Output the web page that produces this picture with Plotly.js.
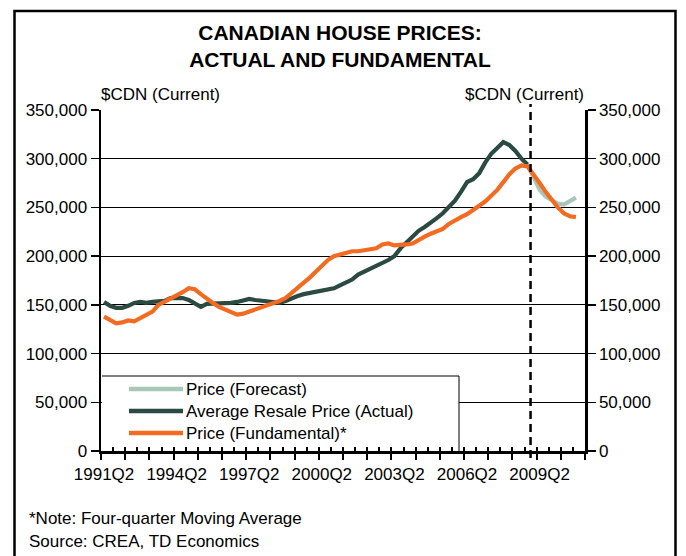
<!DOCTYPE html>
<html>
<head>
<meta charset="utf-8">
<script src="https://cdn.plot.ly/plotly-3.0.1.min.js"></script>
<style>html,body{margin:0;padding:0;background:#fff;}#chart{width:686px;height:556px;}</style>
</head>
<body>
<div id="chart"></div>
<script>
// ---------- DATA ----------
const firstQuarter = [1991, 2];   // 1991Q2
const nQuarters = 80;             // 1991Q2 .. 2011Q1
const tickLabels = ['1991Q2','1994Q2','1997Q2','2000Q2','2003Q2','2006Q2','2009Q2'];
const yTicks = [0, 50000, 100000, 150000, 200000, 250000, 300000, 350000];
const forecastStartQuarter = '2008Q4';

const actualStart = '1991Q2';
const actual = [153000,149000,147000,147000,149000,152000,153000,152000,153000,154000,
                154000,157000,157000,157000,155000,151000,148000,151000,151000,152000,
                152000,152000,153000,155000,156000,155000,154000,153000,152000,152000,
                154000,157000,159000,161000,162000,163000,164000,165000,167000,170000,
                173000,176000,181000,184000,187000,189000,193000,196000,200000,208000,
                214000,220000,226000,230000,234000,239000,244000,250000,257000,266000,
                276000,279000,285000,296000,305000,311000,317000,314000,308000,300000,
                294000];

const fundamentalStart = '1991Q2';
const fundamental = [138000,135000,131000,132000,134000,133000,136000,139000,143000,150000,
                     153000,156000,159000,163000,167000,166000,161000,156000,152000,148000,
                     145000,142000,140000,141000,143000,145000,148000,150000,152000,154000,
                     157000,162000,167000,172000,178000,184000,190000,196000,200000,202000,
                     204000,205000,205000,206000,207000,208000,212000,213000,211000,211000,
                     212000,213000,217000,220000,223000,226000,228000,233000,237000,240000,
                     243000,247000,251000,256000,262000,268000,276000,284000,290000,293000,
                     292000,284000,275000,266000,258000,250000,244000,241000,240000];

const forecastStart = '2008Q4';
const forecast = [294000,281000,268000,261000,257000,254000,253000,256000,260000];

const seriesNames = ['Price (Forecast)', 'Average Resale Price (Actual)', 'Price (Fundamental)*'];
const seriesColors = ['#a9c6bb', '#2b4a42', '#f36b21'];

// ---------- BUILD ----------
const quarters = [];
{ let y = firstQuarter[0], q = firstQuarter[1];
  for (let i = 0; i < nQuarters; i++) { quarters.push(y + 'Q' + q); q++; if (q > 4) { q = 1; y++; } } }
const idx = s => quarters.indexOf(s);
const xs = (start, arr) => arr.map((_, i) => idx(start) + i);

const FONT = "'Liberation Sans', Arial, sans-serif";
const ML = 101, MR = 101, MT = 110, MB = 105, W = 686, H = 556;
const PW = W - ML - MR, PH = H - MT - MB;
const px = x => (x - ML) / PW;
const py = y => (H - MB - y) / PH;

const traces = [
  {x: xs(forecastStart, forecast), y: forecast, name: seriesNames[0], mode: 'lines',
   line: {color: seriesColors[0], width: 4.2}, xaxis: 'x2', yaxis: 'y2', showlegend: false, hoverinfo: 'skip'},
  {x: xs(actualStart, actual), y: actual, name: seriesNames[1], mode: 'lines',
   line: {color: seriesColors[1], width: 4.2}, xaxis: 'x', yaxis: 'y', showlegend: false, hoverinfo: 'skip'},
  {x: xs(fundamentalStart, fundamental), y: fundamental, name: seriesNames[2], mode: 'lines',
   line: {color: seriesColors[2], width: 4.2}, xaxis: 'x2', yaxis: 'y2', showlegend: false, hoverinfo: 'skip'}
];

const xr = [-0.5, nQuarters - 0.5];
const yr = [0, 350000];
const tickFont = {family: FONT, size: 17, color: '#000'};

// legend geometry (pixels)
const legBox = {x0: 102, x1: 459, y0: 376, y1: 446.5};
const legRows = [389, 411, 433];
const legLine = [129, 183];

const shapes = [
  // outer frame
  {type: 'rect', xref: 'paper', yref: 'paper', x0: px(14.5), x1: px(675.5), y0: py(580), y1: py(11),
   line: {color: '#000', width: 2.5}, fillcolor: 'rgba(0,0,0,0)', layer: 'above'},
  // forecast divider
  {type: 'line', xref: 'x', yref: 'paper', x0: idx(forecastStartQuarter) + 0.5, x1: idx(forecastStartQuarter) + 0.5,
   y0: py(458), y1: py(104), line: {color: '#000', width: 2.5, dash: '8px,5px'}, layer: 'above'},
  // legend box (white fill, top and right borders)
  {type: 'rect', xref: 'paper', yref: 'paper', x0: px(legBox.x0), x1: px(legBox.x1), y0: py(legBox.y1), y1: py(legBox.y0),
   line: {width: 0}, fillcolor: '#fff', layer: 'above'},
  {type: 'line', xref: 'paper', yref: 'paper', x0: px(legBox.x0), x1: px(legBox.x1), y0: py(legBox.y0), y1: py(legBox.y0),
   line: {color: '#000', width: 1}, layer: 'above'},
  {type: 'line', xref: 'paper', yref: 'paper', x0: px(legBox.x1), x1: px(legBox.x1), y0: py(legBox.y0), y1: py(451),
   line: {color: '#000', width: 1}, layer: 'above'}
];
seriesNames.forEach((n, i) => {
  shapes.push({type: 'line', xref: 'paper', yref: 'paper', x0: px(legLine[0]), x1: px(legLine[1]),
    y0: py(legRows[i]), y1: py(legRows[i]), line: {color: seriesColors[i], width: 4.5}, layer: 'above'});
});

const annotations = [
  {text: '$CDN (Current)', xref: 'paper', yref: 'paper', x: px(99), y: py(94), xanchor: 'left', yanchor: 'middle',
   showarrow: false, font: tickFont},
  {text: '$CDN (Current)', xref: 'paper', yref: 'paper', x: px(586), y: py(94), xanchor: 'right', yanchor: 'middle',
   showarrow: false, font: tickFont},
  {text: '*Note: Four-quarter Moving Average', xref: 'paper', yref: 'paper', x: px(27), y: py(518), xanchor: 'left',
   yanchor: 'middle', showarrow: false, font: tickFont},
  {text: 'Source: CREA, TD Economics', xref: 'paper', yref: 'paper', x: px(27), y: py(541), xanchor: 'left',
   yanchor: 'middle', showarrow: false, font: tickFont}
];
seriesNames.forEach((n, i) => {
  annotations.push({text: n, xref: 'paper', yref: 'paper', x: px(legLine[1] + 1), y: py(legRows[i]),
    xanchor: 'left', yanchor: 'middle', showarrow: false, font: tickFont});
});

const layout = {
  width: W, height: H,
  margin: {l: ML, r: MR, t: MT, b: MB, pad: 0},
  paper_bgcolor: '#fff', plot_bgcolor: '#fff',
  showlegend: false,
  title: {text: '<b>CANADIAN HOUSE PRICES:</b><br><b>ACTUAL AND FUNDAMENTAL</b>',
          font: {family: FONT, size: 21, color: '#000'},
          x: 340 / W, xanchor: 'center', xref: 'container',
          y: 1 - 40 / H, yanchor: 'middle', yref: 'container'},
  xaxis: {range: xr, tickmode: 'array', tickvals: tickLabels.map(idx), ticktext: tickLabels,
          ticks: 'outside', ticklen: 6, tickcolor: 'rgba(0,0,0,0)', tickfont: tickFont,
          showline: true, linecolor: '#000', linewidth: 2.5, showgrid: false, zeroline: false,
          minor: {tickmode: 'linear', tick0: -0.5, dtick: 4, ticks: 'outside', ticklen: 6, tickwidth: 2,
                  tickcolor: '#000', showgrid: false},
          fixedrange: true},
  xaxis2: {range: xr, overlaying: 'x', anchor: 'y', side: 'bottom', tickmode: 'linear', tick0: -0.5, dtick: 2,
           ticks: 'inside', ticklen: 4, tickwidth: 2, tickcolor: '#000', showticklabels: false,
           showline: false, showgrid: false, zeroline: false, fixedrange: true},
  yaxis: {range: yr, tickmode: 'array', tickvals: yTicks, tickformat: ',', ticks: 'outside', ticklen: 8,
          tickwidth: 1.5, tickcolor: '#000', tickfont: tickFont, showline: true, linecolor: '#000', linewidth: 2.5,
          showgrid: true, gridcolor: '#000', gridwidth: 1, zeroline: false, fixedrange: true},
  yaxis2: {range: yr, overlaying: 'y', side: 'right', anchor: 'x', tickmode: 'array', tickvals: yTicks,
           tickformat: ',', ticks: 'outside', ticklen: 8, tickwidth: 1.5, tickcolor: '#000', tickfont: tickFont,
           showline: true, linecolor: '#000', linewidth: 2.5, showgrid: false, zeroline: false, fixedrange: true},
  shapes: shapes,
  annotations: annotations
};

Plotly.newPlot('chart', traces, layout, {displayModeBar: false, staticPlot: true});
</script>
</body>
</html>
